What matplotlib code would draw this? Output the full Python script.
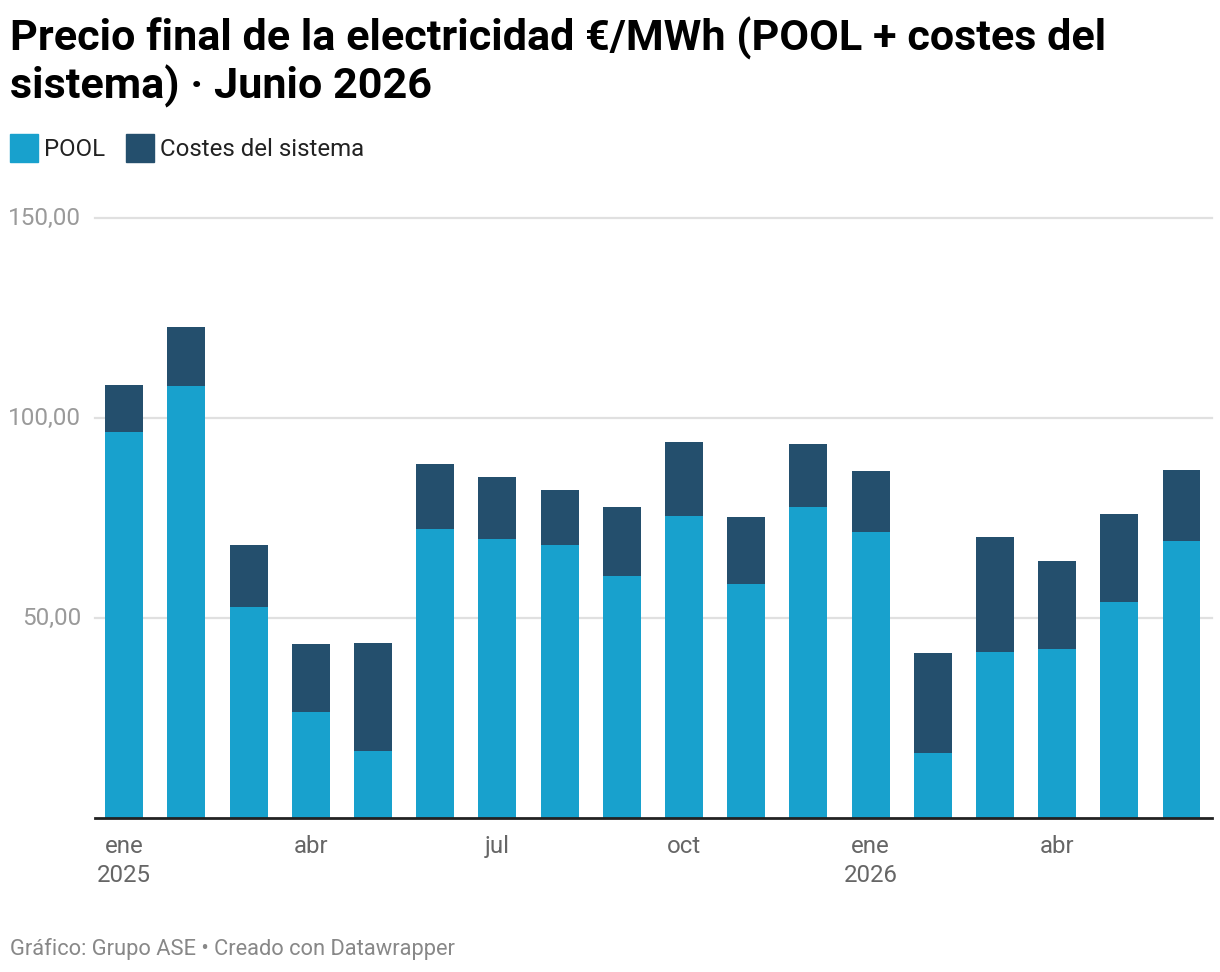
import matplotlib
matplotlib.use("Agg")
import matplotlib.pyplot as plt
from matplotlib.patches import Rectangle
import numpy as np

months = ["ene 2025", "feb 2025", "mar 2025", "abr 2025", "may 2025", "jun 2025",
          "jul 2025", "ago 2025", "sep 2025", "oct 2025", "nov 2025", "dic 2025",
          "ene 2026", "feb 2026", "mar 2026", "abr 2026", "may 2026", "jun 2026"]
pool = [96.5, 108.0, 52.75, 26.5, 16.75, 72.25, 69.75, 68.25, 60.5, 75.5, 58.5, 77.75,
        71.5, 16.25, 41.5, 42.25, 54.0, 69.25]
total = [108.25, 122.75, 68.25, 43.5, 43.75, 88.5, 85.25, 82.0, 77.75, 94.0, 75.25, 93.5,
         86.75, 41.25, 70.25, 64.25, 76.0, 87.0]
costes = [round(t - p, 2) for t, p in zip(total, pool)]

tick_idx = [0, 3, 6, 9, 12, 15]
tick_labels = ["ene\n2025", "abr", "jul", "oct", "ene\n2026", "abr"]
y_ticks = [50, 100, 150]
y_labels = ["50,00", "100,00", "150,00"]

C_POOL = "#18a1cd"
C_COST = "#244f6d"

plt.rcParams["font.family"] = ["Roboto", "DejaVu Sans"]

W, H = 1220, 972
fig = plt.figure(figsize=(W / 100, H / 100), dpi=100)

def fx(px):
    return px / W

def fy(py):
    return 1 - py / H

ax_left, ax_right, ax_top, ax_bottom = 95, 1212, 218, 818
ax = fig.add_axes([fx(ax_left), fy(ax_bottom), fx(ax_right - ax_left), (ax_bottom - ax_top) / H])

x = np.arange(len(months))
ax.bar(x, pool, width=0.61, color=C_POOL, zorder=3)
ax.bar(x, costes, width=0.61, bottom=pool, color=C_COST, zorder=3)

ax.set_xlim(-0.47, 17.49)
ax.set_ylim(0, 150)

for yv in y_ticks:
    ax.axhline(yv, color="#e0e0e0", lw=1.6, zorder=1, clip_on=False)
ax.axhline(0, color="#222222", lw=2, zorder=4, clip_on=False)

for s in ax.spines.values():
    s.set_visible(False)
ax.set_yticks([])
ax.set_xticks(tick_idx)
ax.set_xticklabels(tick_labels, fontsize=17.3, color="#666666", linespacing=1.35)
ax.tick_params(axis="x", length=0, pad=12)

for yv, lab in zip(y_ticks, y_labels):
    fig.text(fx(81), fy(ax_bottom - yv * 4), lab, ha="right", va="center",
             fontsize=17.5, color="#9a9a9a")

title_lines = ["Precio final de la electricidad €/MWh (POOL + costes del",
               "sistema) · Junio 2026"]
for i, line in enumerate(title_lines):
    fig.text(fx(10), fy(50 + 49 * i), line, ha="left", va="baseline",
             fontsize=31.1, fontweight="bold", color="#000000")

# legend
for (x0, label, col) in [(10, "POOL", C_POOL), (126, "Costes del sistema", C_COST)]:
    fig.patches.append(Rectangle((fx(x0), fy(162)), fx(28), 28 / H, color=col,
                                 transform=fig.transFigure, figure=fig))
    fig.text(fx(x0 + 34), fy(149.5), label, ha="left", va="center", fontsize=17.3,
             color="#222222")

fig.text(fx(10), fy(949), "Gráfico: Grupo ASE • Creado con Datawrapper", ha="left",
         va="center", fontsize=15.75, color="#888888")

fig.savefig("out.png", dpi=100, facecolor="white")
